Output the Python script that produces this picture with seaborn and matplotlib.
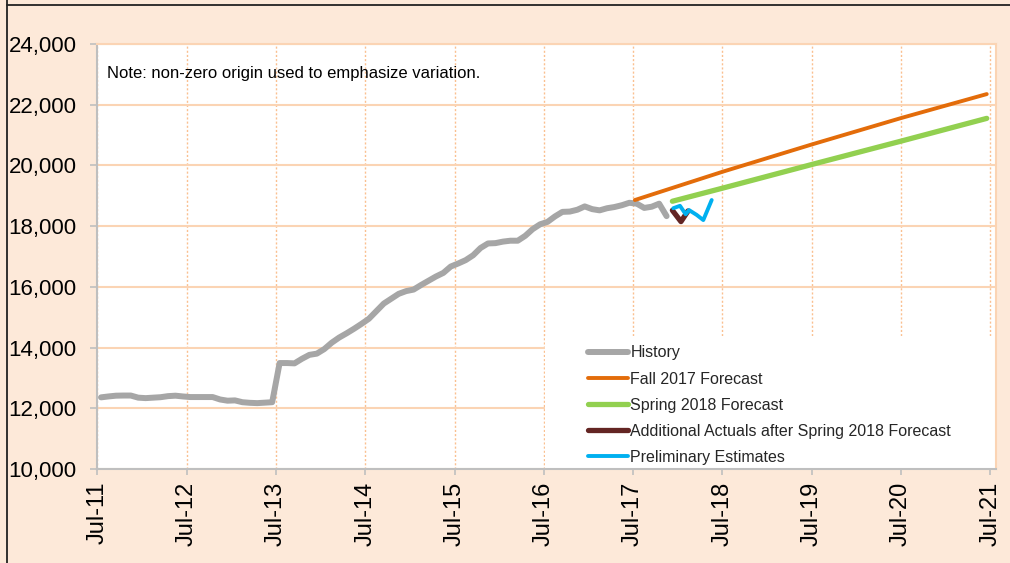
import numpy as np
import pandas as pd
import matplotlib
matplotlib.use("Agg")
import matplotlib.pyplot as plt
from matplotlib.lines import Line2D
from matplotlib.patches import Rectangle
from matplotlib.ticker import FuncFormatter
import seaborn as sns

# ---------------- data ----------------
history_values = [
    12360, 12390, 12415, 12420, 12420, 12350, 12335, 12350, 12365, 12400, 12415, 12390,
    12370, 12370, 12370, 12370, 12290, 12250, 12260, 12200, 12180, 12170, 12185, 12200,
    13490, 13490, 13480, 13630, 13760, 13800, 13950, 14160, 14330, 14470, 14620, 14780,
    14950, 15200, 15450, 15610, 15770, 15860, 15910, 16060, 16200, 16340, 16460, 16670,
    16770, 16880, 17040, 17280, 17430, 17440, 17490, 17520, 17520, 17680, 17900, 18060,
    18140, 18320, 18470, 18480, 18540, 18650, 18560, 18520, 18590, 18630, 18690, 18770,
    18740, 18600, 18640, 18740, 18330,
]
# monthly observations, dated mid-month starting July 2011
history_x = [2011.5 + (i + 0.5) / 12 for i in range(len(history_values))]

fall2017_x = [2017.52, 2018.5, 2019.5, 2020.5, 2021.46]
fall2017_values = [18860, 19790, 20690, 21560, 22350]

spring2018_x = [2017.94, 2018.5, 2019.5, 2020.5, 2021.46]
spring2018_values = [18820, 19250, 20030, 20800, 21550]

additional_x = [2017.94, 2018.036, 2018.115]
additional_values = [18520, 18150, 18500]

prelim_x = [2017.95, 2018.025, 2018.089, 2018.126, 2018.212, 2018.286, 2018.38]
prelim_values = [18590, 18670, 18390, 18530, 18370, 18200, 18860]

tick_years = [2011.5 + k for k in range(11)]
tick_labels = ["Jul-11", "Jul-12", "Jul-13", "Jul-14", "Jul-15", "Jul-16",
               "Jul-17", "Jul-18", "Jul-19", "Jul-20", "Jul-21"]
y_ticks = [10000, 12000, 14000, 16000, 18000, 20000, 22000, 24000]

series_names = ["History", "Fall 2017 Forecast", "Spring 2018 Forecast",
                "Additional Actuals after Spring 2018 Forecast", "Preliminary Estimates"]

# ---------------- style ----------------
sns.set_theme(style="white")
plt.rcParams["font.family"] = ["Liberation Sans", "DejaVu Sans"]

BG = "#FDE9D9"
GRID = "#FBD4B4"
AXIS = "#BFBFBF"

fig = plt.figure(figsize=(10.1, 5.63), dpi=100, facecolor=BG)
ax = fig.add_axes([97.3 / 1010, 1 - 469 / 563, (996 - 97.3) / 1010, (469 - 44) / 563])
ax.set_facecolor("white")

frames = [
    (history_x, history_values, series_names[0], "#A6A6A6", 4.3),
    (fall2017_x, fall2017_values, series_names[1], "#E36C0A", 2.8),
    (spring2018_x, spring2018_values, series_names[2], "#92D050", 3.8),
    (additional_x, additional_values, series_names[3], "#632523", 3.8),
    (prelim_x, prelim_values, series_names[4], "#00B0F0", 2.8),
]
for xs, ys, name, col, lw in frames:
    df = pd.DataFrame({"x": xs, "y": ys})
    sns.lineplot(data=df, x="x", y="y", ax=ax, color=col, linewidth=lw,
                 label=name, zorder=3, solid_capstyle="round", solid_joinstyle="round")

ax.set_xlim(2011.5, 2011.5 + (996 - 97.3) / 89.3)
ax.set_ylim(10000, 24000)
ax.set_xticks(tick_years)
ax.set_xticklabels(tick_labels, rotation=90, fontsize=17)
ax.set_yticks(y_ticks)
ax.yaxis.set_major_formatter(FuncFormatter(lambda v, p: f"{int(v):,}"))
ax.tick_params(axis="y", labelsize=16, length=5, width=1.2, color=AXIS, pad=10, direction="out", left=True)
ax.tick_params(axis="x", length=4, width=1.2, color=AXIS, pad=5, direction="out", bottom=True)
for lab in ax.get_xticklabels() + ax.get_yticklabels():
    lab.set_color("black")
ax.set_xlabel("")
ax.set_ylabel("")

ax.set_axisbelow(True)
ax.yaxis.grid(True, color=GRID, linewidth=1.5, linestyle="-")
ax.xaxis.grid(True, color="#FAC090", linewidth=1.0, linestyle=(0, (1.5, 1.5)))

ax.spines["left"].set_color(AXIS)
ax.spines["bottom"].set_color(AXIS)
ax.spines["left"].set_linewidth(1.5)
ax.spines["bottom"].set_linewidth(1.5)
ax.spines["top"].set_color(GRID)
ax.spines["right"].set_color(GRID)
ax.spines["top"].set_linewidth(1.5)
ax.spines["right"].set_linewidth(1.5)
for s in ax.spines.values():
    s.set_zorder(4)

# white legend backdrop
ax.add_patch(Rectangle(((545 - 97.3) / 898.7, 0.003), (995 - 545) / 898.7, (469 - 337) / 425,
                       transform=ax.transAxes, facecolor="white", edgecolor="none", zorder=2))

handles, labels = ax.get_legend_handles_labels()
ax.legend(handles, labels, loc="upper left", bbox_to_anchor=((588 - 97.3) / 898.7, (469 - 345.5) / 425),
          frameon=False, fontsize=11.5, handlelength=2.5, handletextpad=0.15,
          labelspacing=0.69, borderpad=0, borderaxespad=0)

ax.text(0.011, 0.93, "Note: non-zero origin used to emphasize variation.",
        transform=ax.transAxes, fontsize=12, va="center", ha="left", color="black")

# outer frame lines
fig.add_artist(Line2D([7 / 1010, 7 / 1010], [0, 1], transform=fig.transFigure, color="#222222", linewidth=1.3))
fig.add_artist(Line2D([7 / 1010, 1], [1 - 4.5 / 563, 1 - 4.5 / 563], transform=fig.transFigure, color="#222222", linewidth=1.3))

fig.savefig("out.png", dpi=100, facecolor=BG)
